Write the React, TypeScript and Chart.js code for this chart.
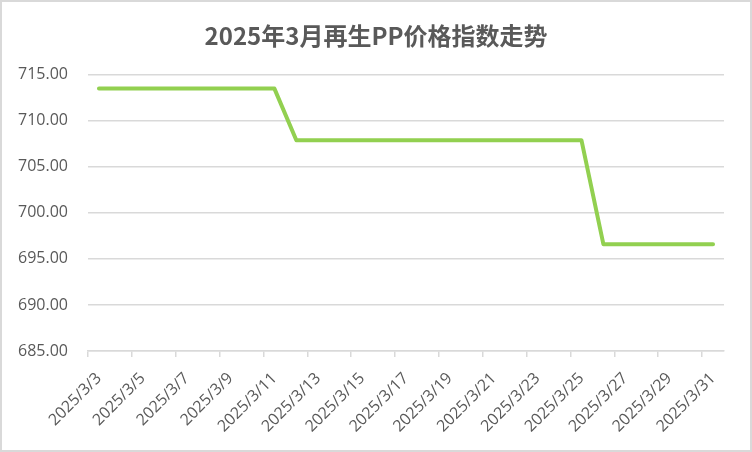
import { useEffect, useRef } from "react";
import { Chart, registerables } from "chart.js";

Chart.register(...registerables);

const chartTitle = "2025年3月再生PP价格指数走势";

const dates = [
  "2025/3/3", "2025/3/4", "2025/3/5", "2025/3/6", "2025/3/7", "2025/3/8", "2025/3/9",
  "2025/3/10", "2025/3/11", "2025/3/12", "2025/3/13", "2025/3/14", "2025/3/15", "2025/3/16",
  "2025/3/17", "2025/3/18", "2025/3/19", "2025/3/20", "2025/3/21", "2025/3/22", "2025/3/23",
  "2025/3/24", "2025/3/25", "2025/3/26", "2025/3/27", "2025/3/28", "2025/3/29", "2025/3/30",
  "2025/3/31",
];

// trading days only; weekends are null and the line spans them
const indexValues: (number | null)[] = [
  713.5, 713.5, 713.5, 713.5, 713.5, null, null,
  713.5, 713.5, 707.9, 707.9, 707.9, null, null,
  707.9, 707.9, 707.9, 707.9, 707.9, null, null,
  707.9, 707.9, 696.6, 696.6, 696.6, null, null,
  696.6,
];

const yMin = 685;
const yMax = 715;
const yStep = 5;

const frame = {
  id: "frame",
  beforeDraw(chart: any) {
    const { ctx, width, height } = chart;
    ctx.save();
    ctx.fillStyle = "#ffffff";
    ctx.fillRect(0, 0, width, height);
    ctx.strokeStyle = "#d9d9d9";
    ctx.lineWidth = 2;
    ctx.strokeRect(1, 1, width - 2, height - 2);
    ctx.restore();
  },
};

export default function App() {
  const ref = useRef<HTMLCanvasElement>(null);

  useEffect(() => {
    document.body.style.margin = "0";
    const chart = new Chart(ref.current as HTMLCanvasElement, {
      type: "line",
      data: {
        labels: dates,
        datasets: [
          {
            data: indexValues,
            borderColor: "#92D050",
            backgroundColor: "#92D050",
            borderWidth: 4,
            borderCapStyle: "round",
            borderJoinStyle: "round",
            pointRadius: 0,
            spanGaps: true,
            tension: 0,
            yAxisID: "y",
          },
        ],
      },
      options: {
        responsive: false,
        animation: false,
        devicePixelRatio: 1,
        layout: { padding: { left: 0, right: 0, top: 0, bottom: 0 } },
        plugins: {
          legend: { display: false },
          tooltip: { enabled: false },
          title: {
            display: true,
            text: chartTitle,
            color: "#595959",
            font: { family: "'Noto Sans CJK SC', 'Noto Sans', sans-serif", size: 24, weight: "bold" },
            padding: { top: 21, bottom: 25 },
          },
        },
        scales: {
          x: {
            type: "category",
            offset: true,
            border: { display: true, color: "#d9d9d9", width: 1.5 },
            grid: {
              offset: true,
              drawOnChartArea: false,
              drawTicks: true,
              tickLength: 6,
              color: (ctx: any) => (ctx.index % 2 === 0 ? "#d9d9d9" : "rgba(0,0,0,0)"),
              lineWidth: 1.5,
            },
            ticks: {
              autoSkip: false,
              minRotation: 45,
              maxRotation: 45,
              padding: 12,
              color: "#595959",
              font: { family: "'Open Sans', sans-serif", size: 16 },
              callback: (_v: any, i: number) => (i % 2 === 0 ? dates[i] : ""),
            },
            afterFit: (scale: any) => {
              scale.height = 101;
            },
          },
          y: {
            position: "left",
            min: yMin,
            max: yMax,
            border: { display: false },
            grid: { color: "#d9d9d9", lineWidth: 1.5, drawTicks: false },
            ticks: {
              stepSize: yStep,
              padding: 20,
              color: "#595959",
              font: { family: "'Open Sans', sans-serif", size: 16 },
              callback: (v: any) => Number(v).toFixed(2),
            },
            afterFit: (scale: any) => {
              scale.width = 88;
            },
          },
          yRight: {
            position: "right",
            min: yMin,
            max: yMax,
            border: { display: false },
            grid: { display: false, drawTicks: false },
            ticks: { display: false },
            afterFit: (scale: any) => {
              scale.width = 28;
            },
          },
        },
      },
      plugins: [frame],
    } as any);
    return () => chart.destroy();
  }, []);

  return (
    <div style={{ position: "fixed", left: 0, top: 0, width: 752, height: 452, background: "#fff" }}>
      <canvas ref={ref} width={752} height={452} style={{ display: "block", width: 752, height: 452 }} />
    </div>
  );
}
